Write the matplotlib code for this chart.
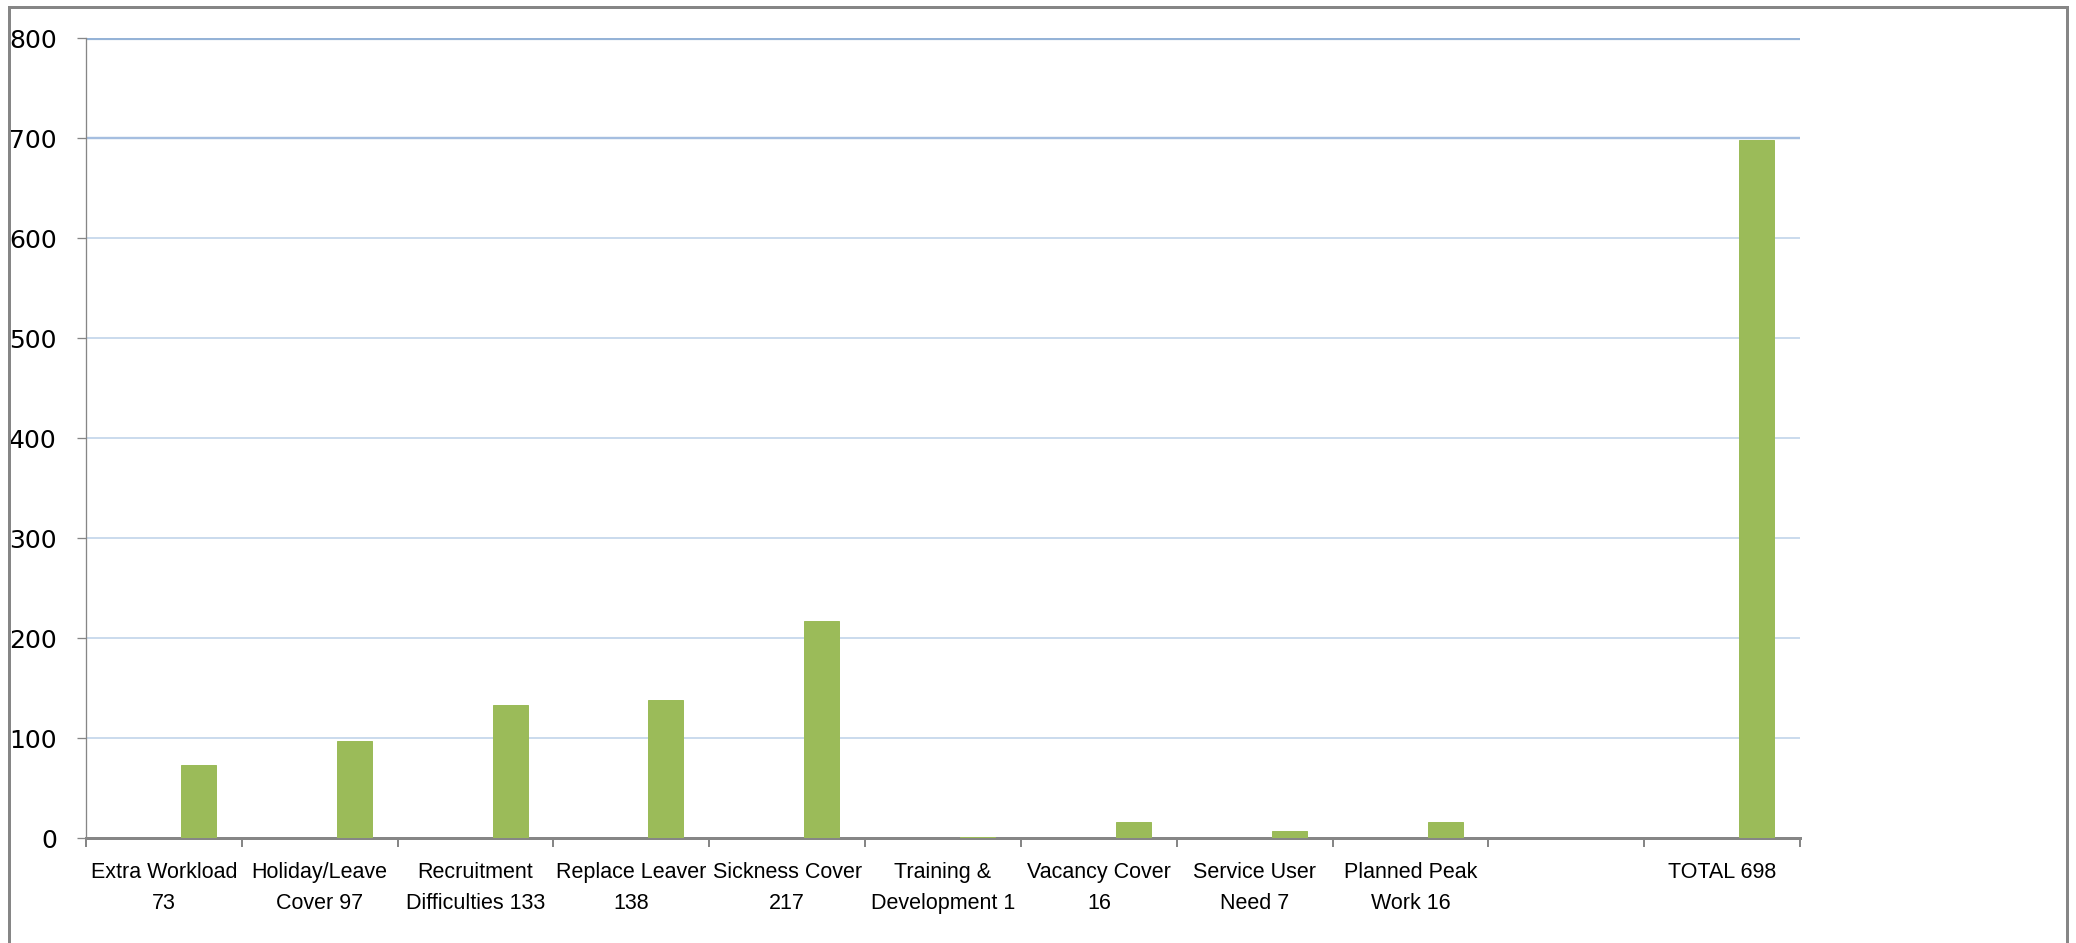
import matplotlib
matplotlib.use("Agg")
import matplotlib.pyplot as plt
from matplotlib.patches import Rectangle
from matplotlib.ticker import FixedLocator, NullFormatter
import numpy as np

# Category names (with a slot for the value) and their counts
label_templates = [
    "Extra Workload\n{}",
    "Holiday/Leave\nCover {}",
    "Recruitment\nDifficulties {}",
    "Replace Leaver\n{}",
    "Sickness Cover\n{}",
    "Training &\nDevelopment {}",
    "Vacancy Cover\n{}",
    "Service User\nNeed {}",
    "Planned Peak\nWork {}",
    "",
    "TOTAL {}",
]
values = [73, 97, 133, 138, 217, 1, 16, 7, 16, None, 698]
y_ticks = [0, 100, 200, 300, 400, 500, 600, 700, 800]

W, H, DPI = 2076, 943, 100
fig = plt.figure(figsize=(W / DPI, H / DPI), dpi=DPI)
fig.patch.set_facecolor("white")

px = 72.0 / DPI  # points per pixel

# outer chart frame
fig.patches.append(Rectangle((8.5 / W, -0.05), (2067 - 8.5) / W, 1.05 - 7.5 / H,
                             transform=fig.transFigure, fill=False,
                             edgecolor="#868686", linewidth=3 * px, zorder=0))

ax = fig.add_axes([86 / W, 105 / H, (1800 - 86) / W, (838 - 38) / H])
ax.set_facecolor("white")

n = len(values)
x = np.arange(n)
bar_vals = [np.nan if v is None else v for v in values]
ax.bar(x + 0.222, bar_vals, width=0.225, color="#9BBB59",
       edgecolor="#9BBB59", linewidth=1.0 * px, zorder=3)

ax.set_xlim(-0.5, n - 0.5)
ax.set_ylim(0, 800)

# horizontal gridlines
grid_colors = {800: "#95B3D7", 700: "#A5BEE0"}
grid_widths = {800: 3.2, 700: 2.4}
for t in y_ticks[1:]:
    ax.axhline(t, color=grid_colors.get(t, "#C6D7EC"),
               linewidth=grid_widths.get(t, 1.8) * px, zorder=1)

ax.set_yticks(y_ticks)
ax.set_yticklabels([str(t) for t in y_ticks], fontsize=18, color="black",
                   family="DejaVu Sans")
ax.tick_params(axis="y", length=9 * px, width=1.3 * px, color="#868686",
               pad=20 * px)

# category boundaries as major ticks, labels at category centres
ax.xaxis.set_major_locator(FixedLocator(np.arange(-0.5, n, 1.0)))
ax.xaxis.set_major_formatter(NullFormatter())
ax.xaxis.set_minor_locator(FixedLocator(x))
labels = [t.format(v) if v is not None else t for t, v in zip(label_templates, values)]
ax.set_xticks(x, minor=True)
ax.set_xticklabels(labels, minor=True, fontsize=15.5, color="black",
                   family=["Liberation Sans", "DejaVu Sans"],
                   linespacing=1.6, multialignment="center")
ax.tick_params(axis="x", which="major", length=9 * px, width=2 * px,
               color="#868686")
ax.tick_params(axis="x", which="minor", length=0, pad=24 * px)

for side in ("top", "right"):
    ax.spines[side].set_visible(False)
ax.spines["left"].set_color("#868686")
ax.spines["left"].set_linewidth(1.3 * px)
ax.spines["bottom"].set_color("#868686")
ax.spines["bottom"].set_linewidth(3 * px)
ax.spines["bottom"].set_zorder(2.5)

fig.savefig("out.png", dpi=DPI, facecolor="white")
